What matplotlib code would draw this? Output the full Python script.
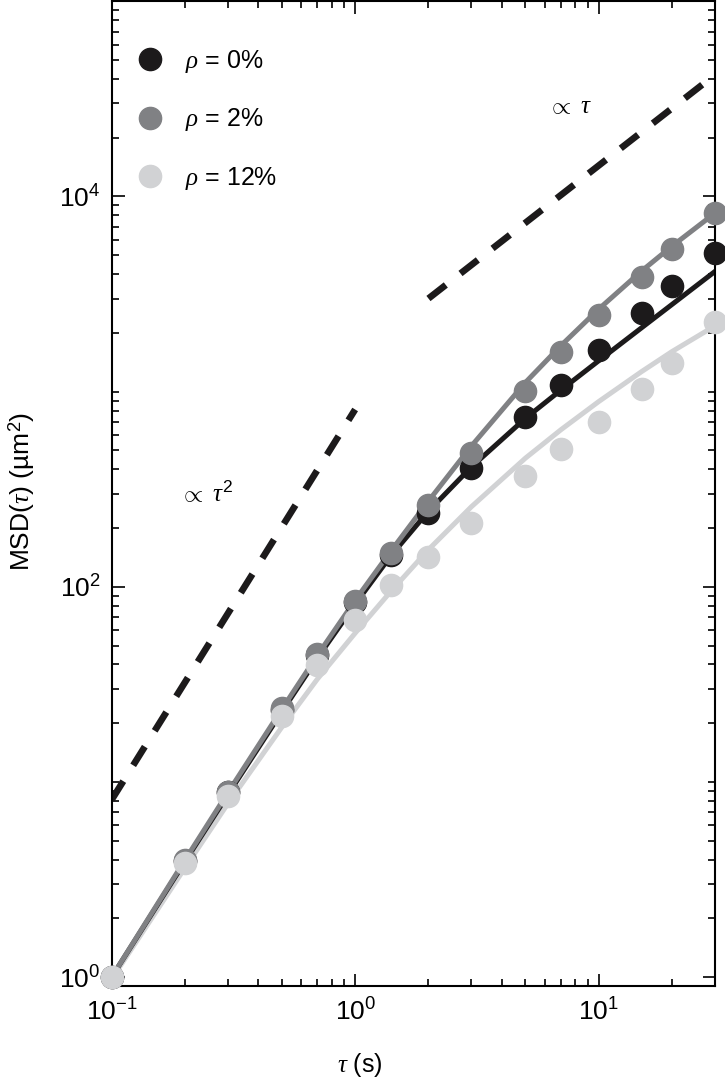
import numpy as np
import matplotlib
matplotlib.use('Agg')
import matplotlib.pyplot as plt
from matplotlib.ticker import FixedLocator, LogLocator, LogFormatterSciNotation, NullFormatter

plt.rcParams['font.family'] = ['Liberation Sans', 'DejaVu Sans']
plt.rcParams['mathtext.fontset'] = 'custom'
plt.rcParams['mathtext.rm'] = 'Liberation Sans'
plt.rcParams['mathtext.sf'] = 'Liberation Sans'
plt.rcParams['mathtext.it'] = 'Liberation Serif:italic'
plt.rcParams['mathtext.bf'] = 'Liberation Sans:bold'

# lag times (s)
tau = [0.1, 0.2, 0.3, 0.5, 0.7, 1, 1.4, 2, 3, 5, 7, 10, 15, 20, 30]

# measured MSD (um^2)
msd_0 = [1, 3.92, 8.84, 23.5, 44.9, 83.8, 146, 239, 406, 741, 1080, 1631, 2523, 3467, 5108]
msd_2 = [1, 3.97, 8.84, 23.8, 45.4, 84.8, 149, 263, 485, 1006, 1592, 2461, 3855, 5355, 8185]
msd_12 = [1, 3.83, 8.43, 21.9, 39.9, 67.8, 102, 142, 212, 370, 508, 698, 1030, 1400, 2265]

# model curves
fit_0 = [1, 3.91, 8.60, 22.9, 43.2, 81.5, 144, 244, 411, 729, 1019, 1439, 2123, 2796, 4124]
fit_2 = [1, 3.98, 8.81, 23.6, 44.6, 85.3, 152, 275, 526, 1113, 1721, 2646, 4148, 5563, 8209]
fit_12 = [0.977, 3.63, 7.74, 19.1, 33.7, 57.9, 94.6, 155, 257, 456, 638, 889, 1266, 1604, 2171]

# guide lines
tau_ball = [0.1, 1]
msd_ball = [8.1, 810]
tau_diff = [2, 30]
msd_diff = [3000, 42000]

labels = [r'$\rho$ = 0%', r'$\rho$ = 2%', r'$\rho$ = 12%']
colors = ['#1c1a1b', '#808184', '#d1d2d4']

fig = plt.figure(figsize=(7.25, 10.78), dpi=100)
ax = fig.add_axes([0.154, 0.0853, 0.832, 0.9135])

ax.plot(tau_ball, msd_ball, color='#1c1a1b', lw=4.8, dashes=(3.3, 2.8), dash_capstyle='butt')
ax.plot(tau_diff, msd_diff, color='#1c1a1b', lw=4.8, dashes=(3.3, 2.8), dash_capstyle='butt')

for fit, c in zip([fit_12, fit_0, fit_2], [colors[2], colors[0], colors[1]]):
    ax.plot(tau, fit, color=c, lw=3.6, solid_joinstyle='round', zorder=2)

for m, c, lab in zip([msd_0, msd_2, msd_12], colors, labels):
    ax.plot(tau, m, 'o', ms=16, color=c, mec=c, label=lab, zorder=3, clip_on=False)

ax.set_xscale('log')
ax.set_yscale('log')
ax.set_xlim(0.1, 30)
ax.set_ylim(0.9, 1e5)

ax.yaxis.set_major_locator(FixedLocator([1, 1e2, 1e4]))
ax.yaxis.set_major_formatter(LogFormatterSciNotation())
ax.yaxis.set_minor_locator(LogLocator(base=10, subs=np.arange(1, 10), numticks=20))
ax.yaxis.set_minor_formatter(NullFormatter())

ax.tick_params(which='both', direction='in', top=True, right=True, width=1.2)
ax.tick_params(which='major', length=9, labelsize=19)
ax.tick_params(which='minor', length=5)
ax.tick_params(axis='x', which='major', pad=9)
ax.tick_params(axis='y', which='major', pad=8)
for s in ax.spines.values():
    s.set_linewidth(1.5)

ax.set_xlabel(r'$\tau$ (s)', fontsize=18)
ax.set_ylabel(r'MSD($\tau$) (µm$^2$)', fontsize=19)
ax.xaxis.set_label_coords(0.412, -0.066)
ax.yaxis.set_label_coords(-0.123, 0.502)

ax.text(0.76, 0.8935, r'$\propto\ \tau$', transform=ax.transAxes, fontsize=18,
        ha='center', va='center')
ax.text(0.158, 0.501, r'$\propto\ \tau^2$', transform=ax.transAxes, fontsize=18,
        ha='center', va='center')

ax.legend(loc='upper left', bbox_to_anchor=(0.0265, 0.963), borderaxespad=0,
          frameon=False, fontsize=18, handlelength=1.0, handletextpad=0.9,
          labelspacing=1.27, numpoints=1)

fig.savefig('out.png', dpi=100)
